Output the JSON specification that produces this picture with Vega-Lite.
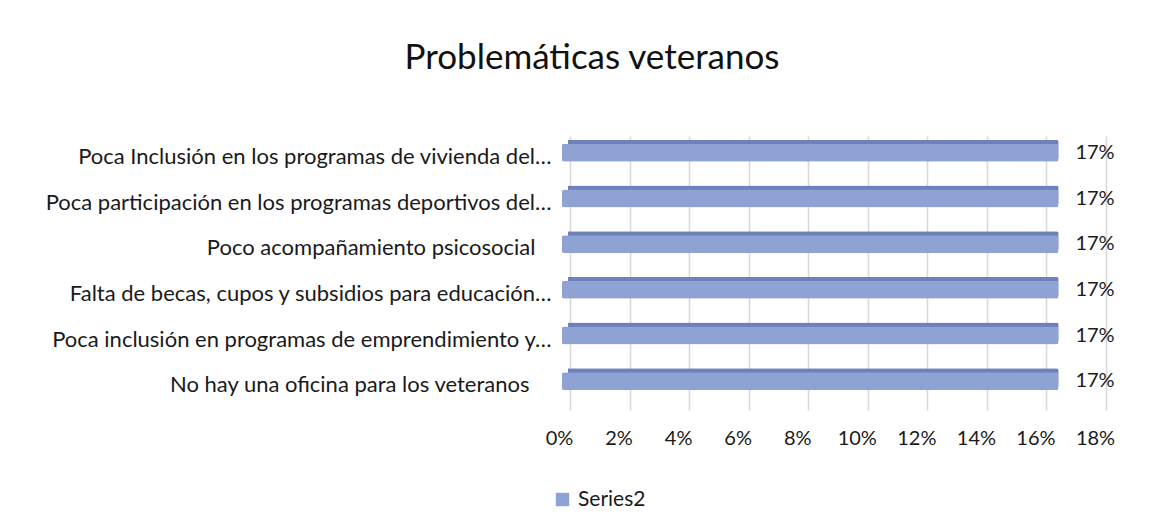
{
  "$schema": "https://vega.github.io/schema/vega-lite/v6.json",
  "autosize": {"type": "none"},
  "width": 536,
  "height": 274,
  "padding": {"left": 562, "top": 128, "right": 67, "bottom": 126},
  "background": "#ffffff",
  "config": {
    "view": {"stroke": null},
    "font": "Lato",
    "axis": {"labelFont": "Lato", "labelColor": "#1a1a1a"}
  },
  "title": {
    "text": "Problemáticas veteranos",
    "font": "Lato",
    "fontSize": 35,
    "fontWeight": "normal",
    "color": "#111111",
    "anchor": "middle",
    "frame": "group",
    "baseline": "alphabetic",
    "offset": 24,
    "dx": -238
  },
  "data": {
    "values": [
      {"problema": "Poca Inclusión en los programas de vivienda del…", "valor": 0.1667, "serie": "Series2"},
      {"problema": "Poca participación en los programas deportivos del…", "valor": 0.1667, "serie": "Series2"},
      {"problema": "Poco acompañamiento psicosocial", "valor": 0.1667, "serie": "Series2"},
      {"problema": "Falta de becas, cupos y subsidios para educación…", "valor": 0.1667, "serie": "Series2"},
      {"problema": "Poca inclusión en programas de emprendimiento y…", "valor": 0.1667, "serie": "Series2"},
      {"problema": "No hay una oficina para los veteranos", "valor": 0.1667, "serie": "Series2"}
    ]
  },
  "resolve": {"axis": {"x": "independent"}},
  "layer": [
    {
      "mark": {"type": "bar", "height": 20, "yOffset": -1, "xOffset": 6, "x2Offset": 6, "color": "#6E81BB", "cornerRadius": 2},
      "encoding": {
        "y": {"field": "problema", "type": "nominal", "sort": null,
          "scale": {"paddingInner": 0, "paddingOuter": 0},
          "axis": {"title": null, "domain": false, "ticks": false, "labelFontSize": 22, "labelOffset": 6, "labelLimit": 600,
            "labelPadding": {"condition": [
              {"test": "datum.value === 'Poco acompañamiento psicosocial'", "value": 27},
              {"test": "datum.value === 'No hay una oficina para los veteranos'", "value": 33}
            ], "value": 11}}},
        "x": {"field": "valor", "type": "quantitative",
          "scale": {"domain": [0, 0.18], "nice": false, "zero": true},
          "axis": {"orient": "bottom", "title": null, "format": ".0%", "values": [0, 0.02, 0.04, 0.06, 0.08, 0.1, 0.12, 0.14, 0.16, 0.18],
            "domain": false, "ticks": false, "grid": true, "gridColor": "#D9D9D9", "gridWidth": 1.6, "labels": false, "translate": 8.5}}
      }
    },
    {
      "mark": {"type": "bar", "height": 18, "yOffset": 2, "cornerRadius": 2},
      "encoding": {
        "y": {"field": "problema", "type": "nominal", "sort": null},
        "x": {"field": "valor", "type": "quantitative",
          "axis": {"orient": "bottom", "title": null, "format": ".0%", "values": [0, 0.02, 0.04, 0.06, 0.08, 0.1, 0.12, 0.14, 0.16, 0.18],
            "domain": false, "ticks": false, "grid": false, "labelFontSize": 20, "labelPadding": 26, "labelOffset": -3, "labelFlush": false, "labelOverlap": false}},
        "color": {"field": "serie", "type": "nominal",
          "scale": {"range": ["#8FA2D4"]},
          "legend": {"title": null, "orient": "none", "legendX": -10, "legendY": 361, "symbolType": "square", "symbolSize": 180,
            "symbolStrokeWidth": 0, "labelFont": "Lato", "labelFontSize": 21, "labelColor": "#1a1a1a", "labelOffset": 5}}
      }
    },
    {
      "mark": {"type": "text", "align": "left", "baseline": "middle", "dx": 17, "yOffset": 2, "fontSize": 20, "color": "#1a1a1a", "font": "Lato"},
      "encoding": {
        "y": {"field": "problema", "type": "nominal", "sort": null},
        "x": {"field": "valor", "type": "quantitative", "axis": null},
        "text": {"field": "valor", "type": "quantitative", "format": ".0%"}
      }
    }
  ]
}
